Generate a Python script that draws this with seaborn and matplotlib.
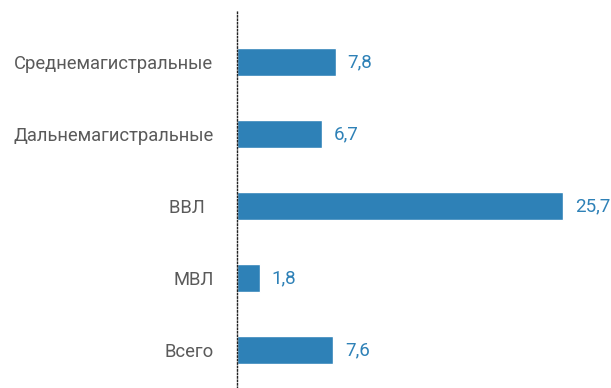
import matplotlib
matplotlib.use("Agg")
import matplotlib.pyplot as plt
import seaborn as sns
import pandas as pd

categories = ["Среднемагистральные", "Дальнемагистральные", "ВВЛ  ", "МВЛ", "Всего"]
values = [7.8, 6.7, 25.7, 1.8, 7.6]

sns.set_style("white")
plt.rcParams["font.family"] = ["Roboto", "DejaVu Sans"]

bar_color = "#2e81b7"
label_color = "#5a5a5a"

df = pd.DataFrame({"category": categories, "value": values})

fig = plt.figure(figsize=(6.11, 3.88), dpi=100)
ax = fig.add_axes([237 / 611, 0, 374 / 611, 378 / 388])

sns.barplot(data=df, x="value", y="category", orient="h", color=bar_color,
            width=0.386, saturation=1, ax=ax)

ax.set_xlim(0, 374 / 12.68)
ax.set_ylim((388 - 62) / 72.1, (10 - 62) / 72.1)
ax.set_xlabel("")
ax.set_ylabel("")
ax.set_xticks([])

for side in ["top", "right", "bottom"]:
    ax.spines[side].set_visible(False)
ax.spines["left"].set_linestyle((0, (1, 1.5)))
ax.spines["left"].set_color("#222222")
ax.spines["left"].set_linewidth(1.0)

ax.tick_params(axis="y", length=0, pad=17, labelsize=13.2, labelcolor=label_color)

for container in ax.containers:
    ax.bar_label(container, labels=[f"{v:.1f}".replace(".", ",") for v in values],
                 padding=8.5, color=bar_color, fontsize=13.5)

fig.savefig("out.png", dpi=100)
